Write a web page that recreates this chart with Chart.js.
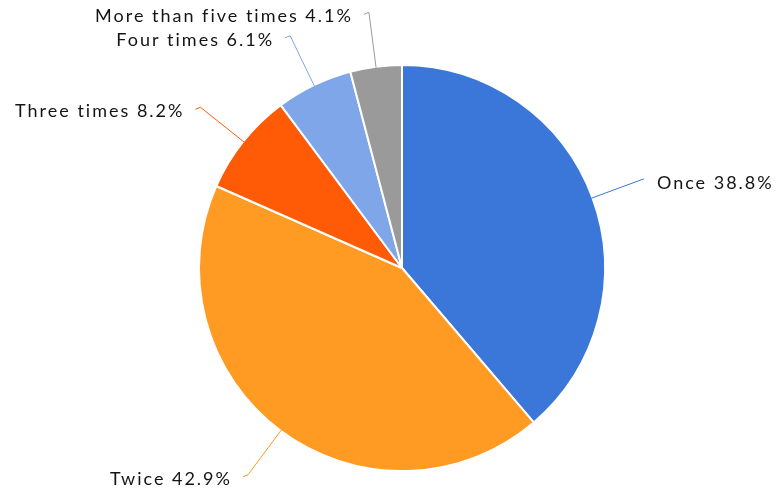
<!DOCTYPE html>
<html><head><meta charset="utf-8">
<script src="https://cdn.jsdelivr.net/npm/chart.js@4"></script>
<style>html,body{margin:0;padding:0;background:#fff}#wrap{width:779px;height:489px;position:relative}</style>
</head><body><div id="wrap"><canvas id="c"></canvas></div>
<script>
const categories = ["Once", "Twice", "Three times", "Four times", "More than five times"];
const values = [38.8, 42.9, 8.2, 6.1, 4.1];
const colors = ["#3a77d8", "#ff9a22", "#ff5a06", "#7ea6e8", "#9a9a9a"];

const labelPlugin = {
  id: 'outLabels',
  afterDatasetsDraw(chart) {
    const ctx = chart.ctx;
    const meta = chart.getDatasetMeta(0);
    ctx.save();
    ctx.font = '18px Lato';
    ctx.letterSpacing = '2px';
    ctx.textBaseline = 'middle';
    meta.data.forEach((arc, i) => {
      const p = arc.getProps(['x','y','startAngle','endAngle','outerRadius'], true);
      const mid = (p.startAngle + p.endAngle) / 2;
      const c = Math.cos(mid), s = Math.sin(mid);
      const r0 = p.outerRadius - 1, r1 = p.outerRadius * 1.27;
      const x0 = p.x + c * r0, y0 = p.y + s * r0;
      const x1 = p.x + c * r1, y1 = p.y + s * r1;
      const dir = c >= 0 ? 1 : -1;
      const x2 = x1 + dir * 5, y2 = y1 + 2;
      ctx.strokeStyle = colors[i];
      ctx.lineWidth = 1;
      ctx.beginPath();
      ctx.moveTo(x0, y0); ctx.lineTo(x1, y1);
      if (dir < 0) ctx.lineTo(x2, y2);
      ctx.stroke();
      ctx.fillStyle = '#141414';
      ctx.textAlign = dir > 0 ? 'left' : 'right';
      const tx = dir > 0 ? x1 + 13 : x2 - 11;
      ctx.fillText(categories[i] + ' ' + values[i].toFixed(1) + '%', tx, y1 + 4);
    });
    ctx.restore();
  }
};

new Chart(document.getElementById('c'), {
  type: 'pie',
  data: { labels: categories, datasets: [{ data: values, backgroundColor: colors, borderColor: '#ffffff', borderWidth: 2, hoverOffset: 0 }] },
  options: {
    responsive: true, maintainAspectRatio: false, animation: false,
    layout: { padding: { top: 64, bottom: 17, left: 100, right: 75 } },
    plugins: { legend: { display: false }, tooltip: { enabled: false } }
  },
  plugins: [labelPlugin]
});
</script></body></html>
